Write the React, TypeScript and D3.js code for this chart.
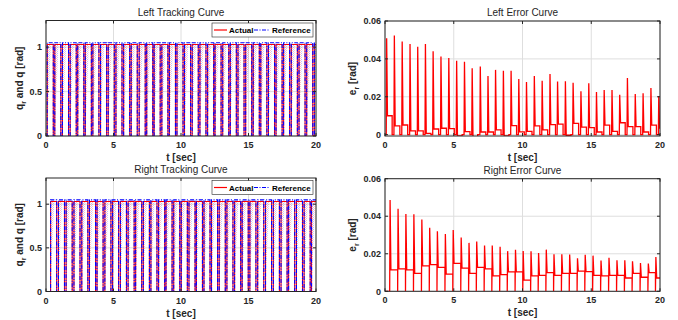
import React, { useRef, useEffect } from 'react';
import * as d3 from 'd3';

const xTicks = [0, 5, 10, 15, 20];
const trackTicks = [0, 0.5, 1];
const errorTicks = [0, 0.02, 0.04, 0.06];

// cycle start times (s)
const leftStarts = [0.09, 0.65, 1.22, 1.79, 2.35, 2.91, 3.47, 4.04, 4.61, 5.18, 5.75, 6.31, 6.9, 7.46, 8.01, 8.58, 9.14, 9.7,
    10.26, 10.83, 11.4, 11.97, 12.52, 13.09, 13.65, 14.22, 14.79, 15.35, 15.91, 16.48, 17.04, 17.6, 18.17, 18.74, 19.31, 19.88];
const rightStarts = [0.34, 0.92, 1.49, 2.07, 2.65, 3.22, 3.78, 4.36, 4.93, 5.51, 6.08, 6.64, 7.21, 7.77, 8.34, 8.89, 9.46,
    10.02, 10.59, 11.14, 11.7, 12.26, 12.83, 13.4, 13.97, 14.53, 15.1, 15.68, 16.26, 16.84, 17.41, 17.97, 18.55, 19.12, 19.67];

// error peaks and plateaus per cycle (rad)
const leftPeaks = [0.0509, 0.0524, 0.0492, 0.0478, 0.0464, 0.0478, 0.044, 0.0412, 0.0405, 0.039, 0.0385, 0.035, 0.036, 0.031,
    0.0342, 0.0338, 0.0337, 0.0294, 0.0278, 0.031, 0.0285, 0.032, 0.0281, 0.0282, 0.0274, 0.0229, 0.0271, 0.0225, 0.0236,
    0.0236, 0.0211, 0.0299, 0.0215, 0.0218, 0.0246, 0.0204];
const leftPlateaus = [0.01, 0.0046, 0.0051, 0.002, 0.002, 0.0007, 0.003, 0.0034, 0.0032, -0.0007, 0.0016, -0.001, 0.0014,
    0.0014, 0.0025, -0.0007, 0.0048, 0.0015, 0.0017, 0.0046, 0.0025, 0.0053, 0.0056, -0.0003, 0.006, 0.004, 0.0037, 0.0014,
    0.005, 0.0017, 0.0063, 0.0042, 0.0042, 0.0014, 0.005, 0.0035];
const rightPeaks = [0.0487, 0.044, 0.0412, 0.041, 0.0382, 0.0338, 0.032, 0.0305, 0.0326, 0.0287, 0.0258, 0.0265, 0.0244,
    0.0244, 0.0237, 0.0214, 0.0221, 0.0215, 0.0213, 0.0204, 0.0222, 0.0197, 0.0197, 0.0196, 0.0176, 0.0195, 0.019, 0.0164,
    0.0179, 0.0165, 0.0165, 0.016, 0.0151, 0.0148, 0.0183];
const rightPlateaus = [0.0114, 0.012, 0.0114, 0.0096, 0.0135, 0.0142, 0.0128, 0.0092, 0.0149, 0.0124, 0.0096, 0.0128, 0.012,
    0.0082, 0.0089, 0.0103, 0.0103, 0.006, 0.0082, 0.0085, 0.01, 0.0085, 0.0096, 0.0096, 0.0107, 0.0105, 0.0085, 0.0082,
    0.0085, 0.0085, 0.0071, 0.0096, 0.0075, 0.01, 0.0071];

const refLevel = 1.05;
const actualLevel = 1.03;
const holdTime = 0.45;
const tEnd = 20;

const FONT = 'Liberation Sans, Arial, Helvetica, sans-serif';

type Pt = [number, number];

const pulsePoints = (starts: number[], level: number): Pt[] => {
    const pts: Pt[] = [[0, 0]];
    starts.forEach(ts => {
        const tf = Math.min(ts + holdTime, tEnd);
        pts.push([ts, 0], [ts, level], [tf, level]);
        if (ts + holdTime < tEnd) pts.push([tf, 0]);
    });
    if (pts[pts.length - 1][0] < tEnd) pts.push([tEnd, pts[pts.length - 1][1]]);
    return pts;
};

const errorPoints = (starts: number[], peaks: number[], plateaus: number[], hold: number | null): Pt[] => {
    const pts: Pt[] = [[0, 0]];
    starts.forEach((ts, i) => {
        const next = i < starts.length - 1 ? starts[i + 1] : tEnd;
        const tf = hold === null ? next : Math.min(ts + hold, tEnd);
        pts.push([ts, 0], [ts + 0.03, peaks[i]], [ts + 0.09, plateaus[i]], [tf, plateaus[i]]);
        if (tf < tEnd) pts.push([tf, 0]);
    });
    if (pts[pts.length - 1][0] < tEnd) pts.push([tEnd, 0]);
    return pts;
};

type Panel = {
    id: string;
    left: number; right: number; top: number; bottom: number;
    yDomain: [number, number];
    yTicks: number[];
    title: string;
    ylabel: [string, string, string];
};

const App: React.FC = () => {
    const svgRef = useRef<SVGSVGElement | null>(null);

    useEffect(() => {
        const svg = d3.select(svgRef.current);
        svg.selectAll('*').remove();
        const width = 678;
        const height = 320;

        svg.attr('width', width).attr('height', height).style('background', '#fff').style('display', 'block');

        const defs = svg.append('defs');
        const pat = defs.append('pattern')
            .attr('id', 'hatch')
            .attr('patternUnits', 'userSpaceOnUse')
            .attr('width', 2)
            .attr('height', 2);
        pat.append('rect').attr('x', 0).attr('y', 0).attr('width', 1).attr('height', 1).attr('fill', '#ff3030');
        pat.append('rect').attr('x', 1).attr('y', 1).attr('width', 1).attr('height', 1).attr('fill', '#3030ff');

        const drawPanel = (p: Panel) => {
            const x = d3.scaleLinear().domain([0, tEnd]).range([p.left, p.right]);
            const y = d3.scaleLinear().domain(p.yDomain).range([p.bottom, p.top]);
            const g = svg.append('g');

            defs.append('clipPath').attr('id', `clip-${p.id}`)
                .append('rect')
                .attr('x', p.left).attr('y', p.top)
                .attr('width', p.right - p.left).attr('height', p.bottom - p.top);

            // grid
            g.selectAll('.vgrid').data(xTicks).enter().append('line')
                .attr('x1', d => x(d)).attr('x2', d => x(d))
                .attr('y1', p.top).attr('y2', p.bottom)
                .attr('stroke', '#dedede').attr('stroke-width', 1);
            g.selectAll('.hgrid').data(p.yTicks).enter().append('line')
                .attr('x1', p.left).attr('x2', p.right)
                .attr('y1', d => y(d)).attr('y2', d => y(d))
                .attr('stroke', '#dedede').attr('stroke-width', 1);

            const plot = g.append('g').attr('clip-path', `url(#clip-${p.id})`);

            // ticks inward on all sides
            const tl = 3;
            xTicks.forEach(t => {
                g.append('line').attr('x1', x(t)).attr('x2', x(t)).attr('y1', p.bottom).attr('y2', p.bottom - tl)
                    .attr('stroke', '#262626');
                g.append('line').attr('x1', x(t)).attr('x2', x(t)).attr('y1', p.top).attr('y2', p.top + tl)
                    .attr('stroke', '#262626');
                g.append('text').attr('x', x(t)).attr('y', p.bottom + 12)
                    .attr('text-anchor', 'middle')
                    .style('font-family', FONT).style('font-size', '9px').style('font-weight', 'bold')
                    .attr('fill', '#262626').text(String(t));
            });
            p.yTicks.forEach(t => {
                g.append('line').attr('x1', p.left).attr('x2', p.left + tl).attr('y1', y(t)).attr('y2', y(t))
                    .attr('stroke', '#262626');
                g.append('line').attr('x1', p.right).attr('x2', p.right - tl).attr('y1', y(t)).attr('y2', y(t))
                    .attr('stroke', '#262626');
                g.append('text').attr('x', p.left - 4).attr('y', y(t) + 3.2)
                    .attr('text-anchor', 'end')
                    .style('font-family', FONT).style('font-size', '9px').style('font-weight', 'bold')
                    .attr('fill', '#262626').text(String(t));
            });

            // box
            g.append('rect')
                .attr('x', p.left).attr('y', p.top)
                .attr('width', p.right - p.left).attr('height', p.bottom - p.top)
                .attr('fill', 'none').attr('stroke', '#262626').attr('stroke-width', 1);

            // title
            g.append('text')
                .attr('x', (p.left + p.right) / 2).attr('y', p.top - 5)
                .attr('text-anchor', 'middle')
                .style('font-family', FONT).style('font-size', '10px')
                .attr('fill', '#262626').text(p.title);

            // x label
            g.append('text')
                .attr('x', (p.left + p.right) / 2).attr('y', p.bottom + 25)
                .attr('text-anchor', 'middle')
                .style('font-family', FONT).style('font-size', '10px').style('font-weight', 'bold')
                .attr('fill', '#262626').text('t [sec]');

            // y label with subscript
            const lx = p.left - (p.id.startsWith('t') ? 23 : 29);
            const ly = (p.top + p.bottom) / 2;
            const yl = g.append('text')
                .attr('transform', `translate(${lx},${ly}) rotate(-90)`)
                .attr('text-anchor', 'middle')
                .style('font-family', FONT).style('font-size', '10px').style('font-weight', 'bold')
                .attr('fill', '#262626');
            yl.append('tspan').text(p.ylabel[0]);
            yl.append('tspan').attr('dy', 3).style('font-size', '7px').text(p.ylabel[1]);
            yl.append('tspan').attr('dy', -3).text(p.ylabel[2]);

            return { x, y, plot, g };
        };

        const line = (x: d3.ScaleLinear<number, number>, y: d3.ScaleLinear<number, number>) =>
            d3.line<Pt>().x(d => x(d[0])).y(d => y(d[1]));

        const drawTracking = (p: Panel, starts: number[]) => {
            const { x, y, plot, g } = drawPanel(p);
            // dense overlap texture inside each pulse
            plot.selectAll('.wedge').data(starts).enter().append('path')
                .attr('d', ts => {
                    const pts: Pt[] = [[ts, 0.05], [ts, actualLevel], [Math.min(ts + holdTime * 0.6, tEnd), actualLevel]];
                    return line(x, y)(pts) + 'Z';
                })
                .attr('fill', 'url(#hatch)').attr('opacity', 0.3);
            plot.append('path')
                .attr('d', line(x, y)(pulsePoints(starts, actualLevel)))
                .attr('fill', 'none').attr('stroke', '#ff0000').attr('stroke-width', 1.1);
            plot.append('path')
                .attr('d', line(x, y)(pulsePoints(starts, refLevel)))
                .attr('fill', 'none').attr('stroke', '#0000ff').attr('stroke-width', 1.1)
                .attr('stroke-dasharray', '4,1.5,1,1.5');

            // legend
            const lg = g.append('g').attr('transform', `translate(${p.right - 104},${p.top + 2.5})`);
            lg.append('rect').attr('x', 0).attr('y', 0).attr('width', 101).attr('height', 14)
                .attr('fill', '#fff').attr('stroke', '#262626').attr('stroke-width', 0.6);
            lg.append('line').attr('x1', 2).attr('x2', 15).attr('y1', 7).attr('y2', 7)
                .attr('stroke', '#ff0000').attr('stroke-width', 1.2);
            lg.append('text').attr('x', 17).attr('y', 10)
                .style('font-family', FONT).style('font-size', '8px').style('font-weight', 'bold')
                .text('Actual');
            lg.append('line').attr('x1', 42).attr('x2', 58).attr('y1', 7).attr('y2', 7)
                .attr('stroke', '#0000ff').attr('stroke-width', 1.2).attr('stroke-dasharray', '4,1.5,1,1.5');
            lg.append('text').attr('x', 60).attr('y', 10)
                .style('font-family', FONT).style('font-size', '8px').style('font-weight', 'bold')
                .text('Reference');
        };

        const drawError = (p: Panel, pts: Pt[]) => {
            const { x, y, plot } = drawPanel(p);
            plot.append('path')
                .attr('d', line(x, y)(pts))
                .attr('fill', 'none').attr('stroke', '#ff0000').attr('stroke-width', 1.3);
        };

        drawTracking({
            id: 'tl', left: 46, right: 316, top: 20.5, bottom: 136, yDomain: [0, 1.3], yTicks: trackTicks,
            title: 'Left Tracking Curve', ylabel: ['q', 'r', ' and q [rad]']
        }, leftStarts);

        drawError({
            id: 'el', left: 385, right: 660, top: 21, bottom: 136, yDomain: [-0.0007, 0.06], yTicks: errorTicks,
            title: 'Left Error Curve', ylabel: ['e', 'r', ' [rad]']
        }, errorPoints(leftStarts, leftPeaks, leftPlateaus, 0.43));

        drawTracking({
            id: 'tr', left: 46, right: 316, top: 178, bottom: 291.5, yDomain: [0, 1.3], yTicks: trackTicks,
            title: 'Right Tracking Curve', ylabel: ['q', 'r', ' and q [rad]']
        }, rightStarts);

        drawError({
            id: 'er', left: 385, right: 660, top: 178.7, bottom: 291.3, yDomain: [0, 0.06], yTicks: errorTicks,
            title: 'Right Error Curve', ylabel: ['e', 'r', ' [rad]']
        }, errorPoints(rightStarts, rightPeaks, rightPlateaus, null));
    }, []);

    return (
        <div style={{ position: 'absolute', left: 0, top: 0 }}>
            <svg ref={svgRef}></svg>
        </div>
    );
};

export default App;
